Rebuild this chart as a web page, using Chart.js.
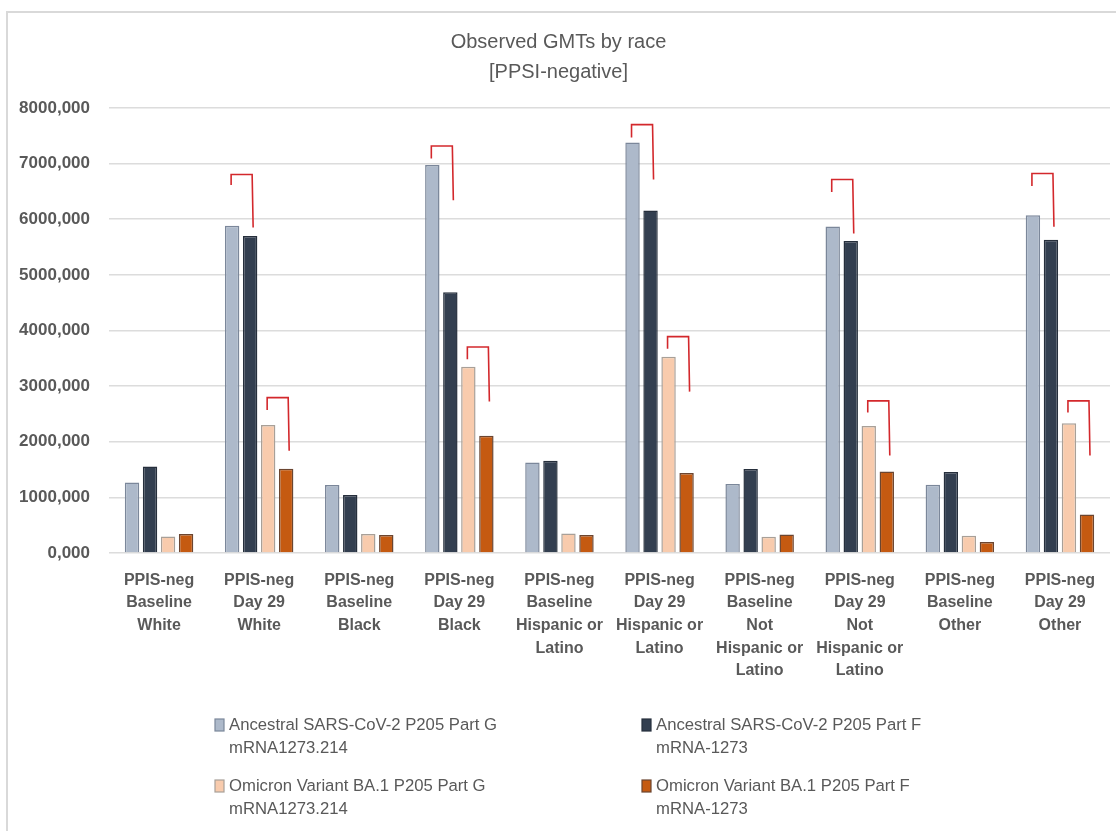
<!DOCTYPE html>
<html>
<head>
<meta charset="utf-8">
<title>Observed GMTs by race</title>
<script src="https://cdn.jsdelivr.net/npm/chart.js@4.4.1/dist/chart.umd.min.js"></script>
<style>
  html, body { margin: 0; padding: 0; background: #ffffff; }
  #wrap { width: 1116px; height: 831px; position: relative; }
</style>
</head>
<body>
<div id="wrap"><canvas id="gmt" width="1116" height="831"></canvas></div>
<script>
// Categories (multi-line axis labels)
const categories = [
  ['PPIS-neg', 'Baseline', 'White'],
  ['PPIS-neg', 'Day 29', 'White'],
  ['PPIS-neg', 'Baseline', 'Black'],
  ['PPIS-neg', 'Day 29', 'Black'],
  ['PPIS-neg', 'Baseline', 'Hispanic or', 'Latino'],
  ['PPIS-neg', 'Day 29', 'Hispanic or', 'Latino'],
  ['PPIS-neg', 'Baseline', 'Not', 'Hispanic or', 'Latino'],
  ['PPIS-neg', 'Day 29', 'Not', 'Hispanic or', 'Latino'],
  ['PPIS-neg', 'Baseline', 'Other'],
  ['PPIS-neg', 'Day 29', 'Other']
];

// Series names (two legend lines each)
const seriesNames = [
  ['Ancestral SARS-CoV-2 P205 Part G', 'mRNA1273.214'],
  ['Ancestral SARS-CoV-2 P205 Part F', 'mRNA-1273'],
  ['Omicron Variant BA.1 P205 Part G', 'mRNA1273.214'],
  ['Omicron Variant BA.1 P205 Part F', 'mRNA-1273']
];

// Observed GMT values per series
const ancestralPartG = [1268, 5882, 1221, 6977, 1627, 7379, 1239, 5871, 1226, 6074];
const ancestralPartF = [1555, 5697, 1041, 4686, 1657, 6158, 1508, 5607, 1454, 5630];
const omicronPartG   = [298, 2303, 341, 3350, 352, 3530, 293, 2285, 311, 2334];
const omicronPartF   = [341, 1513, 323, 2106, 323, 1436, 334, 1465, 197, 693];

// Y axis ticks
const yTicks = [0, 1000, 2000, 3000, 4000, 5000, 6000, 7000, 8000];

// Comparison brackets: category index, left/right series, top value, left foot, right foot
const bracketCategory = [1, 1, 3, 3, 5, 5, 7, 7, 9, 9];
const bracketLeftSeries  = [0, 2, 0, 2, 0, 2, 0, 2, 0, 2];
const bracketRightSeries = [1, 3, 1, 3, 1, 3, 1, 3, 1, 3];
const bracketTop       = [6804, 2794, 7318, 3704, 7702, 3889, 6714, 2734, 6822, 2734];
const bracketLeftFoot  = [6616, 2573, 7092, 3483, 7469, 3673, 6492, 2524, 6600, 2524];
const bracketRightFoot = [5853, 1837, 6343, 2722, 6714, 2901, 5745, 1752, 5864, 1752];

const fills   = ['#adb9ca', '#333f50', '#f8cbad', '#c55a11'];
const borders = ['#7b879a', '#262f3c', '#a8a098', '#6b4530'];
const textGrey = '#595959';
const sans = '"Liberation Sans", Arial, sans-serif';

const seriesValues = [ancestralPartG, ancestralPartF, omicronPartG, omicronPartF];

// Light frame around the chart
const framePlugin = {
  id: 'frame',
  beforeDraw(chart) {
    const ctx = chart.ctx;
    ctx.save();
    ctx.strokeStyle = '#d9d9d9';
    ctx.lineWidth = 2;
    ctx.beginPath();
    ctx.moveTo(7, chart.height);
    ctx.lineTo(7, 12);
    ctx.lineTo(chart.width, 12);
    ctx.stroke();
    ctx.restore();
  }
};

// Red comparison brackets above bar pairs
const bracketPlugin = {
  id: 'brackets',
  afterDatasetsDraw(chart) {
    const ctx = chart.ctx;
    const y = chart.scales.y;
    ctx.save();
    ctx.strokeStyle = '#d3282c';
    ctx.lineWidth = 1.6;
    for (let i = 0; i < bracketCategory.length; i++) {
      const c = bracketCategory[i];
      const barL = chart.getDatasetMeta(bracketLeftSeries[i]).data[c];
      const barR = chart.getDatasetMeta(bracketRightSeries[i]).data[c];
      const xl = barL.x - 1;
      const xr = barR.x + 2;
      const yt = y.getPixelForValue(bracketTop[i]);
      ctx.beginPath();
      ctx.moveTo(xl, y.getPixelForValue(bracketLeftFoot[i]));
      ctx.lineTo(xl, yt);
      ctx.lineTo(xr, yt);
      ctx.lineTo(xr + 1, y.getPixelForValue(bracketRightFoot[i]));
      ctx.stroke();
    }
    ctx.restore();
  }
};

// Two-column legend under the axis labels
const legendPlugin = {
  id: 'twoColLegend',
  afterDraw(chart) {
    const ctx = chart.ctx;
    const base = chart.chartArea.bottom;
    const colX = [215, 642];
    const rowY = [base + 172, base + 233];
    const lineGap = 23;
    ctx.save();
    ctx.font = '16.7px ' + sans;
    ctx.textBaseline = 'middle';
    ctx.textAlign = 'left';
    chart.data.datasets.forEach((ds, i) => {
      const x = colX[i % 2];
      const yy = rowY[Math.floor(i / 2)];
      ctx.fillStyle = ds.backgroundColor;
      ctx.fillRect(x, yy - 6, 9, 12);
      ctx.strokeStyle = ds.borderColor;
      ctx.lineWidth = 1.2;
      ctx.strokeRect(x, yy - 6, 9, 12);
      ctx.fillStyle = textGrey;
      ds.label.forEach((line, k) => ctx.fillText(line, x + 14, yy + k * lineGap));
    });
    ctx.restore();
  }
};

new Chart(document.getElementById('gmt'), {
  type: 'bar',
  data: {
    labels: categories,
    datasets: seriesValues.map((vals, i) => ({
      label: seriesNames[i],
      data: vals,
      backgroundColor: fills[i],
      borderColor: borders[i],
      borderWidth: 1.5,
      categoryPercentage: 0.72,
      barPercentage: 0.8
    }))
  },
  options: {
    responsive: false,
    animation: false,
    devicePixelRatio: 1,
    layout: { padding: { left: 7, right: 6, top: 0, bottom: 128 } },
    plugins: {
      legend: { display: false },
      tooltip: { enabled: false },
      title: {
        display: true,
        text: ['Observed GMTs by race', '[PPSI-negative]'],
        color: textGrey,
        font: { family: sans, size: 20, weight: 'normal', lineHeight: 1.5 },
        padding: { top: 27, bottom: 21 }
      }
    },
    scales: {
      x: {
        grid: { display: false, drawTicks: false },
        border: { display: false },
        ticks: {
          color: textGrey,
          padding: 16,
          maxRotation: 0,
          autoSkip: false,
          font: { family: sans, size: 16, weight: 'bold', lineHeight: 22.6 / 16 }
        },
        afterFit(s) { s.height = 150; }
      },
      y: {
        min: 0,
        max: 8000,
        grid: { color: '#dcdcdc', lineWidth: 1.6, drawTicks: false },
        border: { display: false },
        afterBuildTicks(s) { s.ticks = yTicks.map(v => ({ value: v })); },
        ticks: {
          color: textGrey,
          padding: 19,
          font: { family: sans, size: 17, weight: 'bold' },
          callback: v => v.toFixed(3).replace('.', ',')
        },
        afterFit(s) { s.width = 102; }
      }
    }
  },
  plugins: [framePlugin, bracketPlugin, legendPlugin]
});
</script>
</body>
</html>
